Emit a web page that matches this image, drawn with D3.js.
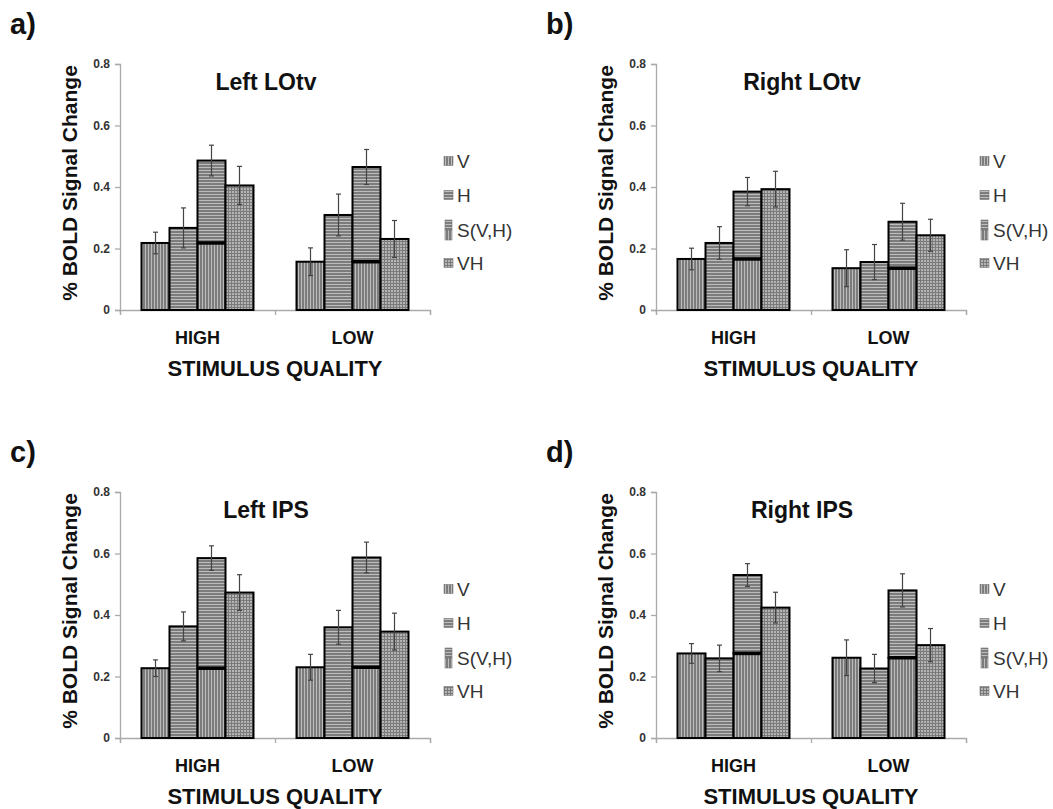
<!DOCTYPE html>
<html>
<head>
<meta charset="utf-8">
<script src="https://cdn.jsdelivr.net/npm/d3@7/dist/d3.min.js"></script>
<style>
body { margin: 0; background: #fff; }
text { font-family: "Liberation Sans", Arial, sans-serif; }
</style>
</head>
<body>
<div id="chart-area"></div>
<script>
/*
*    BOLD signal change, 4 ROIs
*/

const categories = ["HIGH", "LOW"];
const conditions = ["V", "H", "S(V,H)", "VH"];
const titles = ["Left LOtv", "Right LOtv", "Left IPS", "Right IPS"];
const letters = ["a)", "b)", "c)", "d)"];
const yTicks = [0, 0.2, 0.4, 0.6, 0.8];

// [HIGH, LOW], each ordered V, H, S(V,H), VH
const leftLOtvMean = [[0.218, 0.267, 0.486, 0.405], [0.157, 0.309, 0.465, 0.231]];
const leftLOtvErr = [[0.035, 0.065, 0.050, 0.062], [0.045, 0.068, 0.057, 0.060]];
const rightLOtvMean = [[0.166, 0.218, 0.385, 0.393], [0.136, 0.156, 0.287, 0.243]];
const rightLOtvErr = [[0.035, 0.053, 0.046, 0.058], [0.060, 0.057, 0.060, 0.052]];
const leftIPSMean = [[0.227, 0.363, 0.585, 0.473], [0.230, 0.360, 0.587, 0.346]];
const leftIPSErr = [[0.027, 0.047, 0.040, 0.058], [0.042, 0.055, 0.050, 0.060]];
const rightIPSMean = [[0.275, 0.259, 0.530, 0.424], [0.261, 0.226, 0.480, 0.302]];
const rightIPSErr = [[0.032, 0.043, 0.037, 0.050], [0.058, 0.046, 0.054, 0.054]];

const means = [leftLOtvMean, rightLOtvMean, leftIPSMean, rightIPSMean];
const errors = [leftLOtvErr, rightLOtvErr, leftIPSErr, rightIPSErr];

const width = 1053;
const height = 809;
const plotW = 310;
const plotH = 246;
const groupW = 112;
const origins = [[120, 64], [656, 64], [120, 492], [656, 492]];

const svg = d3.select("#chart-area")
    .append("svg")
    .attr("width", width)
    .attr("height", height);

svg.append("rect")
    .attr("width", width)
    .attr("height", height)
    .attr("fill", "#fff");

// hatch patterns
const defs = svg.append("defs");

const pv = defs.append("pattern")
    .attr("id", "pv")
    .attr("patternUnits", "userSpaceOnUse")
    .attr("width", 3).attr("height", 3);
pv.append("rect").attr("width", 3).attr("height", 3).attr("fill", "#7c7c7c");
pv.append("rect").attr("x", 1).attr("width", 1).attr("height", 3).attr("fill", "#bdbdbd");

const ph = defs.append("pattern")
    .attr("id", "ph")
    .attr("patternUnits", "userSpaceOnUse")
    .attr("width", 3).attr("height", 3);
ph.append("rect").attr("width", 3).attr("height", 3).attr("fill", "#7c7c7c");
ph.append("rect").attr("y", 1).attr("width", 3).attr("height", 1).attr("fill", "#bdbdbd");

const pvh = defs.append("pattern")
    .attr("id", "pvh")
    .attr("patternUnits", "userSpaceOnUse")
    .attr("width", 3).attr("height", 3);
pvh.append("rect").attr("width", 3).attr("height", 3).attr("fill", "#b4b4b4");
pvh.append("rect").attr("width", 1).attr("height", 3).attr("fill", "#7a7a7a");
pvh.append("rect").attr("width", 3).attr("height", 1).attr("fill", "#7a7a7a");

const fills = {"V": "url(#pv)", "H": "url(#ph)", "VH": "url(#pvh)"};

means.forEach((m, i) => {

    const g = svg.append("g")
        .attr("transform", "translate(" + origins[i][0] + "," + origins[i][1] + ")");

    const y = d3.scaleLinear()
        .domain([0, 0.8])
        .range([plotH, 0]);

    const x = d3.scaleBand()
        .domain(categories)
        .range([0, plotW]);

    const xc = d3.scaleBand()
        .domain(conditions)
        .range([0, groupW]);

    const off = (x.bandwidth() - groupW) / 2;

    // panel letter + title
    g.append("text")
        .attr("x", -110)
        .attr("y", -30)
        .attr("font-size", "29px")
        .attr("font-weight", "bold")
        .attr("fill", "#111")
        .text(letters[i]);

    g.append("text")
        .attr("x", 146)
        .attr("y", 26)
        .attr("text-anchor", "middle")
        .attr("font-size", "23px")
        .attr("font-weight", "bold")
        .attr("fill", "#111")
        .text(titles[i]);

    // axes
    const leftAxis = d3.axisLeft(y)
        .tickValues(yTicks)
        .tickSize(5)
        .tickPadding(5)
        .tickFormat(d => d === 0 ? "0" : d3.format(".1f")(d));

    g.append("g")
        .attr("class", "left axis")
        .call(leftAxis);

    const bottomAxis = d3.axisBottom(d3.scaleLinear().domain([0, categories.length]).range([0, plotW]))
        .ticks(categories.length)
        .tickSize(5)
        .tickFormat("");

    g.append("g")
        .attr("class", "bottom axis")
        .attr("transform", "translate(0," + plotH + ")")
        .call(bottomAxis);

    g.selectAll(".axis path, .axis line")
        .attr("stroke", "#aaa")
        .attr("stroke-width", 1.3);

    g.selectAll(".left.axis text")
        .attr("font-size", "12px")
        .attr("font-weight", "bold")
        .attr("fill", "#333");

    // bars
    const rows = [];
    categories.forEach((cat, ci) => {
        conditions.forEach((cond, k) => {
            rows.push({cat: cat, cond: cond, value: m[ci][k], err: errors[i][ci][k], base: m[ci][0]});
        });
    });

    const bx = d => x(d.cat) + off + xc(d.cond);

    rows.forEach(d => {
        if (d.cond === "S(V,H)") {
            g.append("rect")
                .attr("x", bx(d))
                .attr("y", y(d.base))
                .attr("width", xc.bandwidth())
                .attr("height", plotH - y(d.base))
                .attr("fill", fills["V"])
                .attr("stroke", "#000")
                .attr("stroke-width", 2);
            g.append("rect")
                .attr("x", bx(d))
                .attr("y", y(d.value))
                .attr("width", xc.bandwidth())
                .attr("height", y(d.base) - y(d.value))
                .attr("fill", fills["H"])
                .attr("stroke", "#000")
                .attr("stroke-width", 2);
            g.append("line")
                .attr("x1", bx(d))
                .attr("x2", bx(d) + xc.bandwidth())
                .attr("y1", y(d.base))
                .attr("y2", y(d.base))
                .attr("stroke", "#000")
                .attr("stroke-width", 3.5);
        } else {
            g.append("rect")
                .attr("x", bx(d))
                .attr("y", y(d.value))
                .attr("width", xc.bandwidth())
                .attr("height", plotH - y(d.value))
                .attr("fill", fills[d.cond])
                .attr("stroke", "#000")
                .attr("stroke-width", 2);
        }
    });

    // error bars
    const eb = g.selectAll(".err")
        .data(rows)
        .enter()
        .append("g")
        .attr("class", "err")
        .attr("stroke", "#444")
        .attr("stroke-width", 1.2);

    eb.append("line")
        .attr("x1", d => bx(d) + xc.bandwidth() / 2)
        .attr("x2", d => bx(d) + xc.bandwidth() / 2)
        .attr("y1", d => y(d.value + d.err))
        .attr("y2", d => y(d.value - d.err));

    eb.append("line")
        .attr("x1", d => bx(d) + xc.bandwidth() / 2 - 2.5)
        .attr("x2", d => bx(d) + xc.bandwidth() / 2 + 2.5)
        .attr("y1", d => y(d.value + d.err))
        .attr("y2", d => y(d.value + d.err));

    eb.append("line")
        .attr("x1", d => bx(d) + xc.bandwidth() / 2 - 2.5)
        .attr("x2", d => bx(d) + xc.bandwidth() / 2 + 2.5)
        .attr("y1", d => y(d.value - d.err))
        .attr("y2", d => y(d.value - d.err));

    // category labels
    g.selectAll(".cat-label")
        .data(categories)
        .enter()
        .append("text")
        .attr("class", "cat-label")
        .attr("x", d => x(d) + x.bandwidth() / 2)
        .attr("y", plotH + 34)
        .attr("text-anchor", "middle")
        .attr("font-size", "18px")
        .attr("font-weight", "bold")
        .attr("fill", "#111")
        .text(d => d);

    g.append("text")
        .attr("x", plotW / 2)
        .attr("y", plotH + 66)
        .attr("text-anchor", "middle")
        .attr("font-size", "22px")
        .attr("font-weight", "bold")
        .attr("fill", "#111")
        .text("STIMULUS QUALITY");

    g.append("text")
        .attr("x", -plotH / 2 + 4)
        .attr("y", -43)
        .attr("transform", "rotate(-90)")
        .attr("text-anchor", "middle")
        .attr("font-size", "21px")
        .attr("font-weight", "bold")
        .attr("fill", "#111")
        .text("% BOLD Signal Change");

    // legend
    const rowY = [97, 131, 166, 199];
    const legend = g.append("g")
        .attr("transform", "translate(" + (plotW + 14) + ",0)");

    conditions.forEach((cond, k) => {
        if (cond === "S(V,H)") {
            legend.append("rect")
                .attr("x", 1).attr("y", rowY[k] - 10)
                .attr("width", 7).attr("height", 10)
                .attr("fill", fills["H"])
                .attr("stroke", "#777").attr("stroke-width", 0.6);
            legend.append("rect")
                .attr("x", 1).attr("y", rowY[k])
                .attr("width", 7).attr("height", 10)
                .attr("fill", fills["V"])
                .attr("stroke", "#777").attr("stroke-width", 0.6);
        } else {
            legend.append("rect")
                .attr("x", 0).attr("y", rowY[k] - 4.5)
                .attr("width", 9).attr("height", 9)
                .attr("fill", fills[cond])
                .attr("stroke", "#777").attr("stroke-width", 0.6);
        }
        legend.append("text")
            .attr("x", 13)
            .attr("y", rowY[k] + 6.5)
            .attr("font-size", "19px")
            .attr("fill", "#333")
            .text(cond);
    });
});
</script>
</body>
</html>
